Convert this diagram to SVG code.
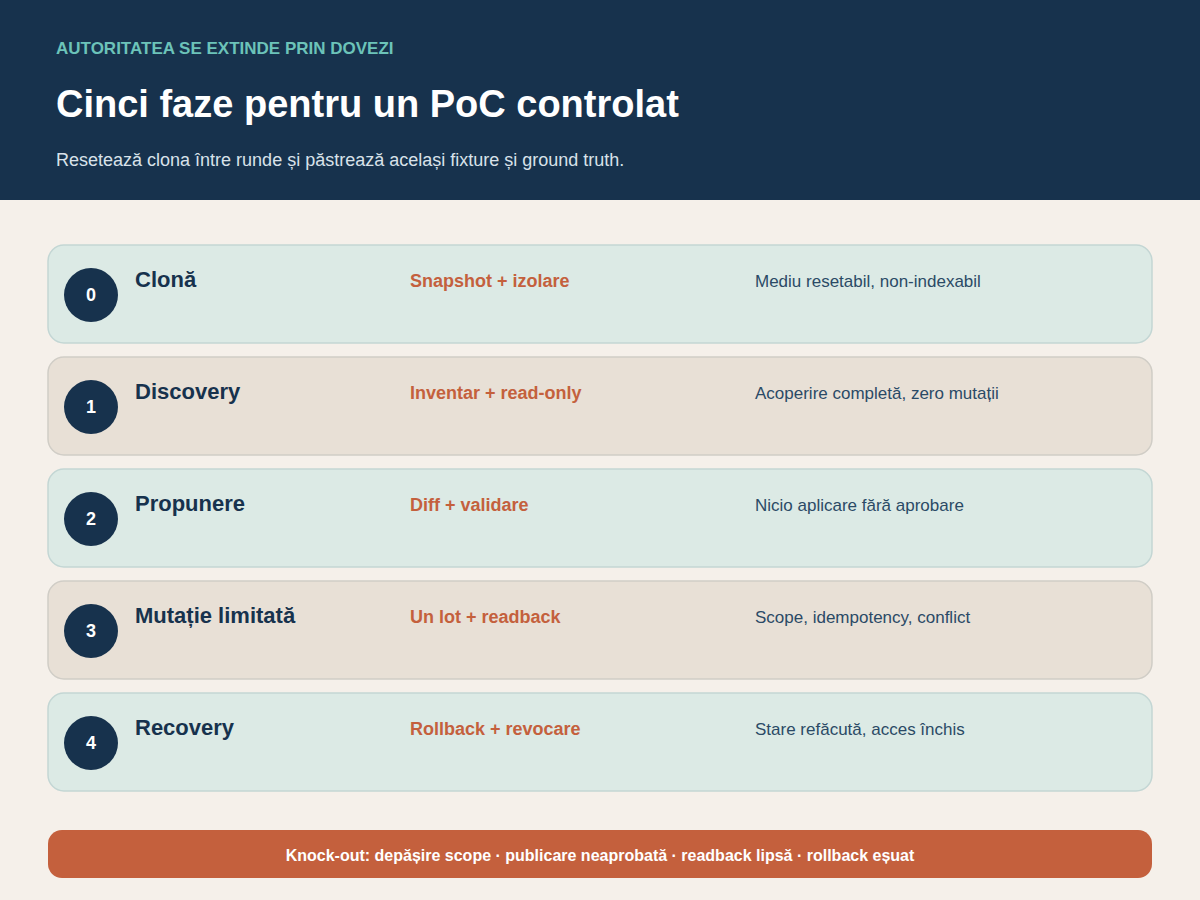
<svg xmlns="http://www.w3.org/2000/svg" width="1200" height="900" viewBox="0 0 1200 900">
<style>
text{font-family:"Liberation Sans",Arial,sans-serif}
.cardA{fill:#dceae5;stroke:#c3d6d4;stroke-width:1.5}
.cardB{fill:#e8e0d6;stroke:#d0cdc6;stroke-width:1.5}
.num{fill:#17324d}
.numt{fill:#fff;font-size:18px;font-weight:bold;text-anchor:middle}
.ttl{fill:#17324d;font-size:22px;font-weight:bold}
.mid{fill:#c4603d;font-size:18px;font-weight:bold}
.rt{fill:#2b4a66;font-size:17px}
</style>
<rect width="1200" height="200" fill="#17324d"/>
<rect y="200" width="1200" height="700" fill="#f5f0ea"/>
<text x="56" y="54" font-size="17" font-weight="bold" fill="#6cc3b9">AUTORITATEA SE EXTINDE PRIN DOVEZI</text>
<text x="56" y="117" font-size="38" font-weight="bold" fill="#ffffff">Cinci faze pentru un PoC controlat</text>
<text x="56" y="166" font-size="18" fill="#d9e2ea">Resetează clona între runde și păstrează același fixture și ground truth.</text>
<g id="connectors"></g>
<g id="phase0">
<rect class="cardA" x="48" y="245" width="1104" height="98" rx="16"/>
<circle class="num" cx="91" cy="295" r="27"/>
<text class="numt" x="91" y="301">0</text>
<text class="ttl" x="135" y="287">Clonă</text>
<text class="mid" x="410" y="287">Snapshot + izolare</text>
<text class="rt" x="755" y="287">Mediu resetabil, non-indexabil</text>
</g>
<g id="phase1">
<rect class="cardB" x="48" y="357" width="1104" height="98" rx="16"/>
<circle class="num" cx="91" cy="407" r="27"/>
<text class="numt" x="91" y="413">1</text>
<text class="ttl" x="135" y="399">Discovery</text>
<text class="mid" x="410" y="399">Inventar + read-only</text>
<text class="rt" x="755" y="399">Acoperire completă, zero mutații</text>
</g>
<g id="phase2">
<rect class="cardA" x="48" y="469" width="1104" height="98" rx="16"/>
<circle class="num" cx="91" cy="519" r="27"/>
<text class="numt" x="91" y="525">2</text>
<text class="ttl" x="135" y="511">Propunere</text>
<text class="mid" x="410" y="511">Diff + validare</text>
<text class="rt" x="755" y="511">Nicio aplicare fără aprobare</text>
</g>
<g id="phase3">
<rect class="cardB" x="48" y="581" width="1104" height="98" rx="16"/>
<circle class="num" cx="91" cy="631" r="27"/>
<text class="numt" x="91" y="637">3</text>
<text class="ttl" x="135" y="623">Mutație limitată</text>
<text class="mid" x="410" y="623">Un lot + readback</text>
<text class="rt" x="755" y="623">Scope, idempotency, conflict</text>
</g>
<g id="phase4">
<rect class="cardA" x="48" y="693" width="1104" height="98" rx="16"/>
<circle class="num" cx="91" cy="743" r="27"/>
<text class="numt" x="91" y="749">4</text>
<text class="ttl" x="135" y="735">Recovery</text>
<text class="mid" x="410" y="735">Rollback + revocare</text>
<text class="rt" x="755" y="735">Stare refăcută, acces închis</text>
</g>
<g id="knockout">
<rect x="48" y="830" width="1104" height="48" rx="14" fill="#c4603d"/>
<text x="600" y="861" font-size="16" font-weight="bold" fill="#ffffff" text-anchor="middle">Knock-out: depășire scope · publicare neaprobată · readback lipsă · rollback eșuat</text>
</g>
</svg>
